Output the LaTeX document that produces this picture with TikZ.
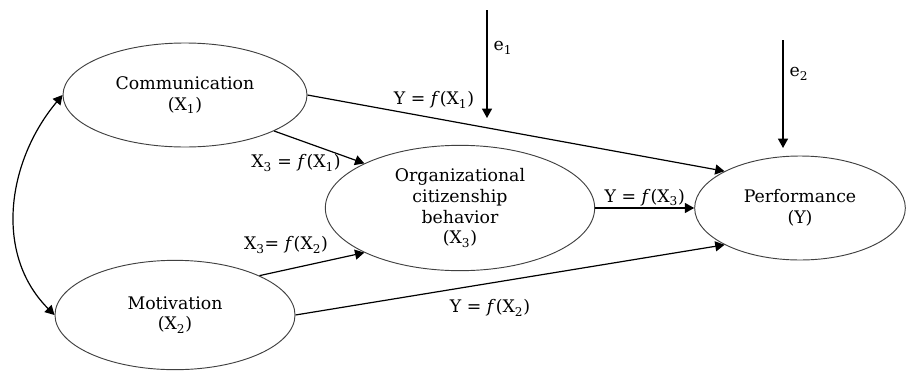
\documentclass[tikz,border=0pt]{standalone}
\usepackage{fontspec}
\setmainfont{DejaVu Serif}
\usetikzlibrary{arrows.meta, shapes.geometric}

\begin{document}
\begin{tikzpicture}[
  x=0.75pt, y=-0.75pt,
  >={Triangle[length=7pt, width=7.5pt]},
  font=\fontsize{13}{15.5}\selectfont,
  var/.style  = {draw=black!75, ellipse, line width=0.7pt, inner sep=0pt, align=center},
  link/.style = {->, line width=0.9pt},
  eqn/.style  = {inner sep=1pt},
]
  \useasboundingbox (0,0) rectangle (906,372);

  % latent variables
  \node[var, minimum width=183pt, minimum height=78pt] (comm)  at (185,95)  {Communication\\(X\textsubscript{1})};
  \node[var, minimum width=180pt, minimum height=82pt] (motiv) at (175,315) {Motivation\\(X\textsubscript{2})};
  \node[var, minimum width=202pt, minimum height=94pt] (ocb)   at (460,208) {Organizational\\citizenship\\behavior\\(X\textsubscript{3})};
  \node[var, minimum width=158pt, minimum height=78pt] (perf)  at (800,208) {Performance\\(Y)};

  % paths
  \draw[link] (comm.east)  -- (perf.154);
  \draw[link] (comm.-22)   -- (ocb.155);
  \draw[link] (motiv.25)   -- (ocb.205);
  \draw[link] (motiv.east) -- (perf.206);
  \draw[link] (ocb.east)   -- node[eqn, above] (lblx3) {Y = \textit{f}(X\textsubscript{3})} (perf.west);
  \draw[link, <->] (comm.west) to[out=230, in=135] (motiv.west);

  \node[eqn] (lblx1) at (434,100) {Y = \textit{f}(X\textsubscript{1})};
  \node[eqn] (lbl31) at (296,163) {X\textsubscript{3} = \textit{f}(X\textsubscript{1})};
  \node[eqn] (lbl32) at (286,245) {X\textsubscript{3}= \textit{f}(X\textsubscript{2})};
  \node[eqn] (lblx2) at (490,308) {Y = \textit{f}(X\textsubscript{2})};

  % error terms
  \coordinate (e1top) at (487,10);
  \coordinate (e1tip) at (487,118);
  \draw[link] (e1top) -- (e1tip);
  \node[eqn] (e1) at (503,48) {e\textsubscript{1}};

  \coordinate (e2top) at (783,40);
  \coordinate (e2tip) at (783,148);
  \draw[link] (e2top) -- (e2tip);
  \node[eqn] (e2) at (799,74) {e\textsubscript{2}};
\end{tikzpicture}
\end{document}
